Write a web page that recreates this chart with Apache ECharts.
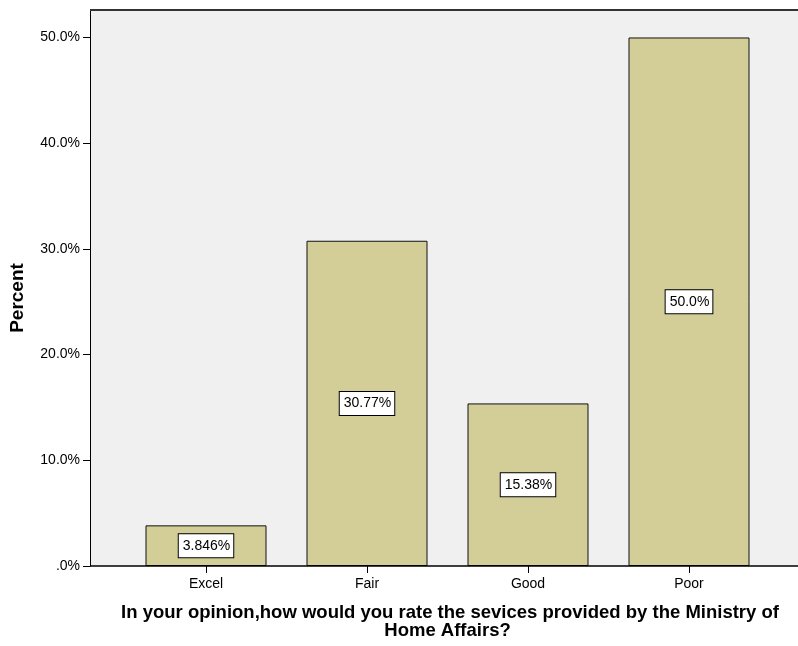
<!DOCTYPE html>
<html>
<head>
<meta charset="utf-8">
<script src="https://cdn.jsdelivr.net/npm/echarts@6/dist/echarts.min.js"></script>
<style>
  html, body { margin: 0; padding: 0; background: #fff; }
  #chart { width: 798px; height: 646px; }
</style>
</head>
<body>
<div id="chart"></div>
<script>
// Rating categories and their percentages
var categories = ['Excel', 'Fair', 'Good', 'Poor'];
var percents = [3.846, 30.77, 15.38, 50.0];
var valueLabels = ['3.846%', '30.77%', '15.38%', '50.0%'];
var yTicks = [0, 10, 20, 30, 40, 50];

var Y_MAX = 52.6;
var FONT = '"Liberation Sans", Arial, sans-serif';

var chart = echarts.init(document.getElementById('chart'));

function yLabel(v) {
  return v === 0 ? '.0%' : v.toFixed(1) + '%';
}

chart.setOption({
  animation: false,
  textStyle: { fontFamily: FONT },
  grid: [
    // frame and shaded plot background
    { left: 90, top: 10, right: -20, bottom: 80, show: true, backgroundColor: '#f0f0f0', borderWidth: 0 },
    // band for the bars
    { left: 125.5, top: 10, width: 644, bottom: 80 }
  ],
  xAxis: [
    {
      gridIndex: 0, type: 'value', min: 0, max: 1,
      axisLine: { show: false }, axisTick: { show: false }, axisLabel: { show: false }, splitLine: { show: false }
    },
    {
      gridIndex: 1, type: 'category', data: categories,
      axisLine: { show: false },
      axisTick: { show: true, alignWithLabel: true, length: 7, lineStyle: { color: '#000', width: 1 } },
      axisLabel: { color: '#000', fontSize: 14, margin: 11, fontFamily: FONT },
      splitLine: { show: false }
    }
  ],
  yAxis: [
    {
      gridIndex: 0, type: 'value', min: 0, max: Y_MAX, interval: 10,
      axisLine: { show: true, lineStyle: { color: '#000', width: 1 } },
      axisTick: { show: true, length: 7, customValues: yTicks, lineStyle: { color: '#000' } },
      axisLabel: {
        color: '#000', fontSize: 14, margin: 10, fontFamily: FONT,
        customValues: yTicks,
        formatter: function (v) { return yLabel(v); }
      },
      splitLine: { show: false }
    },
    {
      gridIndex: 1, type: 'value', min: 0, max: Y_MAX,
      show: false, splitLine: { show: false }
    }
  ],
  series: [
    {
      type: 'line', xAxisIndex: 0, yAxisIndex: 0, data: [], silent: true,
      markLine: {
        symbol: 'none', silent: true, label: { show: false },
        data: [
          [{ coord: [0, Y_MAX] }, { coord: [1, Y_MAX], lineStyle: { color: '#333', width: 2 } }],
          [{ coord: [0, 0] }, { coord: [1, 0], lineStyle: { color: '#000', width: 1.5 } }]
        ],
        lineStyle: { type: 'solid' }
      }
    },
    {
      type: 'bar', xAxisIndex: 1, yAxisIndex: 1,
      data: percents,
      barWidth: 121,
      itemStyle: { color: '#d3ce98', borderColor: '#111', borderWidth: 1 },
      label: {
        show: true, position: 'inside',
        formatter: function (p) { return valueLabels[p.dataIndex]; },
        color: '#000', fontSize: 14, fontFamily: FONT, lineHeight: 16,
        backgroundColor: '#fff', borderColor: '#000', borderWidth: 1,
        padding: [4, 3, 3, 4]
      }
    }
  ],
  graphic: [
    {
      type: 'text', x: 17.5, y: 298, rotation: Math.PI / 2,
      style: {
        text: 'Percent', font: 'bold 19px ' + FONT, fill: '#000',
        align: 'center', verticalAlign: 'middle'
      }
    },
    {
      type: 'text', x: 450, y: 613,
      style: {
        text: 'In your opinion,how would you rate the sevices provided by the Ministry of',
        font: 'bold 18.5px ' + FONT, fill: '#000', align: 'center', verticalAlign: 'middle'
      }
    },
    {
      type: 'text', x: 447.5, y: 631,
      style: {
        text: 'Home Affairs?',
        font: 'bold 18.5px ' + FONT, fill: '#000', align: 'center', verticalAlign: 'middle'
      }
    }
  ]
});
</script>
</body>
</html>
